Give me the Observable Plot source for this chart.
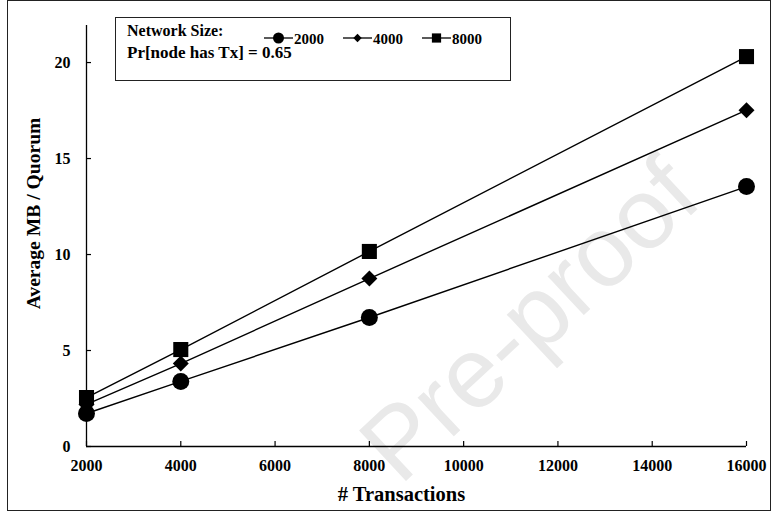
<!DOCTYPE html>
<html>
<head>
<meta charset="utf-8">
<script src="https://cdn.jsdelivr.net/npm/d3@7"></script>
<script src="https://cdn.jsdelivr.net/npm/@observablehq/plot@0.6"></script>
<style>
  html, body { margin: 0; padding: 0; background: #fff; }
  #wrap { position: relative; width: 772px; height: 513px; font-family: 'Times New Roman', 'Liberation Serif', serif; }
  #frame { position: absolute; left: 7px; top: 0px; width: 762px; height: 509px; border: 1.5px solid #222; pointer-events: none; }
  #legend { position: absolute; left: 115px; top: 17px; width: 394px; height: 62px; border: 1.5px solid #222; background: #fff; font-weight: bold; color: #000; font-family: 'Times New Roman', 'Liberation Serif', serif; }
  #legend .t1 { position: absolute; left: 11px; top: 4px; font-size: 16px; }
  #legend .t2 { position: absolute; left: 11px; top: 25px; font-size: 17px; }
  #legend .items { position: absolute; left: 146px; top: 10px; }
</style>
</head>
<body>
<div id="wrap">
  <div id="chart"></div>
  <div id="legend">
    <div class="t1">Network Size:</div>
    <div class="t2">Pr[node has Tx] = 0.65</div>
    <svg class="items" id="legitems" width="240" height="20"></svg>
  </div>
  <div id="frame"></div>
</div>
<script>
const transactions = [2000, 4000, 8000, 16000];
const networkSizes = ["2000", "4000", "8000"];
const mb2000 = [1.72, 3.39, 6.72, 13.54];
const mb4000 = [2.19, 4.32, 8.75, 17.52];
const mb8000 = [2.55, 5.05, 10.16, 20.31];
const xTicks = [2000, 4000, 6000, 8000, 10000, 12000, 14000, 16000];
const yTicks = [0, 5, 10, 15, 20];

const seriesValues = {"2000": mb2000, "4000": mb4000, "8000": mb8000};
const symbols = {"2000": "circle", "4000": "diamond2", "8000": "square"};
const radii = {"2000": 8.5, "4000": 7.2, "8000": 8.5};

const data = networkSizes.flatMap(n => transactions.map((t, i) => ({n, t, v: seriesValues[n][i]})));

const font = "'Times New Roman', 'Liberation Serif', serif";

const chart = Plot.plot({
  width: 772,
  height: 513,
  marginLeft: 86,
  marginRight: 26,
  marginTop: 25,
  marginBottom: 67,
  style: {fontFamily: font, fontWeight: "bold", fontSize: "16px", color: "#000", background: "transparent"},
  x: {domain: [2000, 16000], ticks: xTicks},
  y: {domain: [0, 21.93], ticks: yTicks},
  marks: [
    Plot.text(["Pre-proof"], {frameAnchor: "middle", dx: 114, dy: 85, rotate: -43, fontSize: 100, fontFamily: "'Liberation Sans', sans-serif", fontWeight: "normal", fill: "#e9e9e9", text: d => d}),
    Plot.ruleX([2000], {stroke: "#000", strokeWidth: 1.3}),
    Plot.ruleY([0], {stroke: "#000", strokeWidth: 1.3}),
    Plot.axisX({ticks: xTicks, tickSize: -5, text: null, label: null, strokeWidth: 1.2}),
    Plot.axisX({ticks: xTicks, tickSize: 0, tickPadding: 13, tickFormat: d => String(d), label: null, fontSize: 16, fontFamily: font, fontWeight: "bold"}),
    Plot.axisY({ticks: yTicks, tickSize: -5, text: null, label: null, strokeWidth: 1.2}),
    Plot.axisY({ticks: yTicks, tickSize: 0, tickPadding: 16, label: null, fontSize: 16, fontFamily: font, fontWeight: "bold"}),
    Plot.line(data, {x: "t", y: "v", z: "n", stroke: "#000", strokeWidth: 1.4}),
    ...networkSizes.map(n => Plot.dot(data.filter(d => d.n === n), {x: "t", y: "v", symbol: () => symbols[n], r: radii[n], fill: "#000", stroke: "none"})),
    Plot.text(["# Transactions"], {frameAnchor: "bottom", dx: -15, dy: 54, fontSize: 20.5, fontFamily: font, fontWeight: "bold", text: d => d}),
    Plot.text(["Average MB / Quorum"], {frameAnchor: "left", textAnchor: "middle", dx: -53, dy: -22.5, rotate: -90, fontSize: 19.6, fontFamily: font, fontWeight: "bold", text: d => d})
  ]
});
document.getElementById("chart").appendChild(chart);

// legend items
const leg = d3.select("#legitems");
const sym = {"2000": d3.symbolCircle, "4000": d3.symbolDiamond2, "8000": d3.symbolSquare};
const sizes = {"2000": 95, "4000": 45, "8000": 85};
networkSizes.forEach((n, i) => {
  const x0 = 2 + i * 79;
  const g = leg.append("g").attr("transform", `translate(${x0},10)`);
  g.append("line").attr("x1", 0).attr("x2", 29).attr("y1", 0).attr("y2", 0).attr("stroke", "#000").attr("stroke-width", 1.3);
  g.append("path").attr("d", d3.symbol(sym[n], sizes[n])()).attr("transform", "translate(14.5,0)").attr("fill", "#000");
  g.append("text").attr("x", 30).attr("y", 5.5).attr("font-size", 15).attr("font-weight", "bold").attr("font-family", font).text(n);
});
</script>
</body>
</html>
